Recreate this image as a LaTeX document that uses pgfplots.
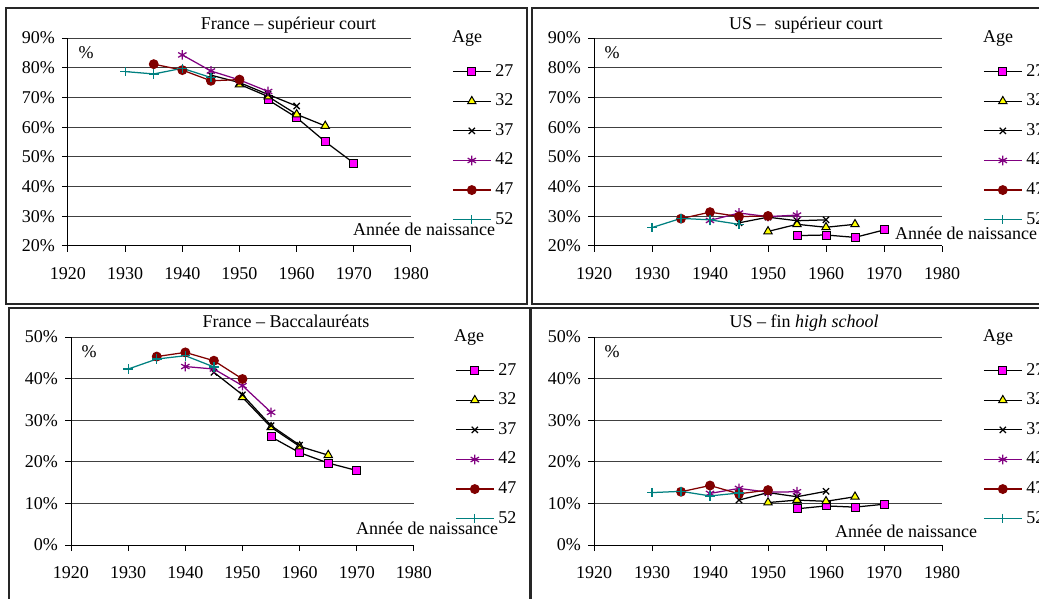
\documentclass[border=0pt]{standalone}
\usepackage{pgfplots}
\pgfplotsset{compat=1.18}
\usepackage{fontspec}
\setmainfont{Liberation Serif}
\definecolor{cMag}{HTML}{FF00FF}
\definecolor{cYel}{HTML}{FFFF00}
\definecolor{cPur}{HTML}{800080}
\definecolor{cRed}{HTML}{800000}
\definecolor{cTeal}{HTML}{008080}
\pgfplotsset{
  panel/.style={
    scale only axis, height=208pt,
    xmin=1920, xmax=1980, xtick={1920,1930,...,1980},
    axis x line=bottom, axis y line=left,
    axis line style={black, line width=1pt, -},
    tick align=outside, major tick length=6pt,
    tick style={black, line width=1pt},
    ymajorgrids, grid style={black!75, line width=1pt},
    clip=false,
    /pgf/number format/assume math mode=true,
    /pgf/number format/1000 sep={},
    yticklabel={\pgfmathprintnumber{\tick}\%},
    xticklabel style={yshift=-9pt},
    yticklabel style={xshift=-1pt},
    legend cell align=left,
    legend image code/.code={\draw[mark repeat=2,mark phase=2,##1] plot coordinates {(0pt,0pt) (19pt,0pt) (38pt,0pt)};},
    legend style={draw=none, fill=none, inner sep=0pt, row sep=12.6pt, column sep=4pt,
      nodes={inner sep=0pt, text height=13pt, text depth=4pt}},
    legend entries={27,32,37,42,47,52},
  },
  s27/.style={black, line width=1.25pt, mark=square*, mark size=4pt, mark options={solid, fill=cMag, draw=black, line width=1pt}},
  s32/.style={black, line width=1.25pt, mark=triangle*, mark size=4.8pt, mark options={solid, fill=cYel, draw=black, line width=1pt}},
  s37/.style={black, line width=1.25pt, mark=x, mark size=4.4pt},
  s42/.style={cPur, line width=1.25pt, mark=asterisk, mark size=4.8pt},
  s47/.style={cRed, line width=1.25pt, mark=*, mark size=4.3pt},
  s52/.style={cTeal, line width=1.25pt, mark=+, mark size=4.8pt},
}
\begin{document}
\fontsize{18}{21}\selectfont
\begin{tikzpicture}[x=1pt,y=1pt]
\useasboundingbox (0,0) rectangle (1039,598);
\clip (0,0) rectangle (1039,598);
% frames
\draw[black!85, line width=1.5pt] (6,590) rectangle (527,294);
\draw[black!85, line width=1.5pt] (532,590) rectangle (1050,294);
\draw[black!85, line width=1.5pt] (9,290) rectangle (530,-10);
\draw[black!85, line width=2.2pt] (531,290) rectangle (1050,-10);

% ---------- France superieur court
\begin{axis}[panel, width=343pt, at={(68pt,352pt)}, anchor=south west,
  ymin=20, ymax=90, ytick={20,30,...,90},
  legend style={at={(rel axis cs:1.1195,0.88)}, anchor=north west}]
\addplot[s27] coordinates {(1955,69.2) (1960,63.2) (1965,55.1) (1970,47.9)};
\addplot[s32] coordinates {(1950,74.4) (1955,70.3) (1960,64.3) (1965,60.4)};
\addplot[s37] coordinates {(1945,77.5) (1950,75.0) (1955,71.0) (1960,67.1)};
\addplot[s42] coordinates {(1940,84.3) (1945,78.9) (1950,75.9) (1955,72.0)};
\addplot[s47] coordinates {(1935,81.2) (1940,79.2) (1945,75.6) (1950,76.0)};
\addplot[s52] coordinates {(1930,78.7) (1935,77.9) (1940,79.8) (1945,76.7)};
\end{axis}

% ---------- US superieur court
\begin{axis}[panel, width=348pt, at={(594pt,352pt)}, anchor=south west,
  ymin=20, ymax=90, ytick={20,30,...,90},
  legend style={at={(rel axis cs:1.1178,0.88)}, anchor=north west}]
\addplot[s27] coordinates {(1955,23.5) (1960,23.7) (1965,22.9) (1970,25.4)};
\addplot[s32] coordinates {(1950,24.9) (1955,27.3) (1960,26.3) (1965,27.3)};
\addplot[s37] coordinates {(1945,27.8) (1950,29.7) (1955,28.5) (1960,28.8)};
\addplot[s42] coordinates {(1940,28.6) (1945,31.1) (1950,29.9) (1955,30.4)};
\addplot[s47] coordinates {(1935,29.2) (1940,31.4) (1945,29.9) (1950,30.1)};
\addplot[s52] coordinates {(1930,26.2) (1935,29.3) (1940,28.8) (1945,27.3)};
\end{axis}

% ---------- France Baccalaureats
\begin{axis}[panel, width=343pt, at={(71pt,53pt)}, anchor=south west,
  ymin=0, ymax=50, ytick={0,10,...,50},
  legend style={at={(rel axis cs:1.1195,0.88)}, anchor=north west}]
\addplot[s27] coordinates {(1955,26.0) (1960,22.2) (1965,19.7) (1970,17.9)};
\addplot[s32] coordinates {(1950,35.5) (1955,28.3) (1960,23.7) (1965,21.6)};
\addplot[s37] coordinates {(1945,41.5) (1950,36.1) (1955,28.7) (1960,24.0)};
\addplot[s42] coordinates {(1940,42.9) (1945,42.3) (1950,38.3) (1955,31.9)};
\addplot[s47] coordinates {(1935,45.3) (1940,46.3) (1945,44.3) (1950,39.9)};
\addplot[s52] coordinates {(1930,42.3) (1935,44.7) (1940,45.5) (1945,42.8)};
\end{axis}

% ---------- US fin high school
\begin{axis}[panel, width=348pt, at={(594pt,53pt)}, anchor=south west,
  ymin=0, ymax=50, ytick={0,10,...,50},
  legend style={at={(rel axis cs:1.1178,0.88)}, anchor=north west}]
\addplot[s27] coordinates {(1955,8.7) (1960,9.4) (1965,9.1) (1970,9.8)};
\addplot[s32] coordinates {(1950,10.2) (1955,10.8) (1960,10.5) (1965,11.6)};
\addplot[s37] coordinates {(1945,10.8) (1950,12.6) (1955,11.6) (1960,12.9)};
\addplot[s42] coordinates {(1940,12.4) (1945,13.6) (1950,12.7) (1955,12.8)};
\addplot[s47] coordinates {(1935,12.8) (1940,14.3) (1945,12.3) (1950,13.2)};
\addplot[s52] coordinates {(1930,12.6) (1935,12.9) (1940,11.8) (1945,12.5)};
\end{axis}

% titles
\node[anchor=base] at (288.5,568.7) {France – supérieur court};
\node[anchor=base] at (806,568.7) {US –\ \ supérieur court};
\node[anchor=base] at (286,270.7) {France – Baccalauréats};
\node[anchor=base] at (804,270.7) {US – fin \textit{high school}};
% percent labels
\node[anchor=base] at (86,539.7) {\%};
\node[anchor=base] at (612,539.7) {\%};
\node[anchor=base] at (89,240.7) {\%};
\node[anchor=base] at (612,240.7) {\%};
% Age
\node[anchor=base west, inner sep=0pt] at (452,555.3) {Age};
\node[anchor=base west, inner sep=0pt] at (983,555.3) {Age};
\node[anchor=base west, inner sep=0pt] at (454,256.3) {Age};
\node[anchor=base west, inner sep=0pt] at (983,256.3) {Age};
% x labels
\node[anchor=base west, inner sep=0pt] at (353,362) {Année de naissance};
\node[anchor=base west, inner sep=0pt] at (895,358) {Année de naissance};
\node[anchor=base west, inner sep=0pt] at (356,63.7) {Année de naissance};
\node[anchor=base west, inner sep=0pt] at (835,60.7) {Année de naissance};
\end{tikzpicture}
\end{document}
